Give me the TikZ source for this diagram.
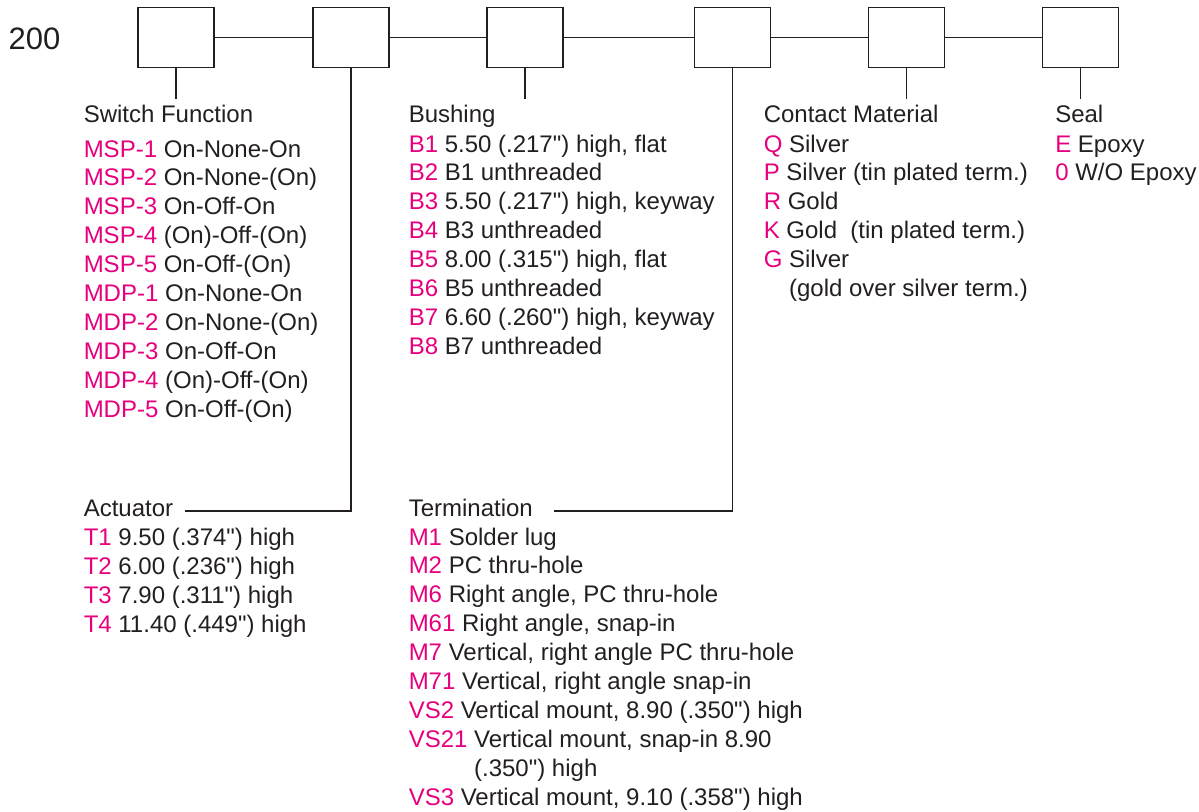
\documentclass[tikz,border=0pt]{standalone}
\usepackage{fontspec}
\setmainfont{Liberation Sans}[Ligatures=TeXOff]
\usetikzlibrary{positioning, calc}
\definecolor{codepink}{RGB}{230,0,126}
\definecolor{inkgray}{RGB}{35,31,32}
\newcommand{\cde}[1]{\textcolor{codepink}{#1}}

\begin{document}
\begin{tikzpicture}[x=1pt, y=1pt, line width=1.5pt, color=inkgray,
  partbox/.style={draw, minimum width=76pt, minimum height=60pt, inner sep=0pt},
  txt/.style={anchor=base west, inner sep=0pt, font=\fontsize{24}{28}\selectfont}]
  \useasboundingbox (0,0) rectangle (1199,-811);

  % part number
  \node[anchor=base west, inner sep=0pt, font=\fontsize{31}{31}\selectfont] (pn) at (8,-49) {200};

  % boxes and the line through them
  \foreach \n/\x in {sw/176, act/351, bush/525, term/732.5, cont/906.5, seal/1080.5}
    \node[partbox] (\n) at (\x,-37.5) {};
  \foreach \a/\b in {sw/act, act/bush, bush/term, term/cont, cont/seal}
    \draw (\a) -- (\b);

  % short stubs down to the headings
  \foreach \n in {sw, bush, cont, seal} {
    \coordinate (\n-tip) at ($(\n.south)+(0,-31)$);
    \draw (\n.south) -- (\n-tip);
  }

  % Switch Function
  \node[txt] (swlbl) at (83,-122.5) {Switch Function};
  \foreach \c/\t [count=\i from 0] in {MSP-1/On-None-On, MSP-2/On-None-(On),
      MSP-3/On-Off-On, MSP-4/(On)-Off-(On), MSP-5/On-Off-(On),
      MDP-1/On-None-On, MDP-2/On-None-(On), MDP-3/On-Off-On,
      MDP-4/(On)-Off-(On), MDP-5/On-Off-(On)}
    \node[txt] (sw-\i) at (83,{-157-28.9*\i}) {\cde{\c} \t};

  % Bushing
  \node[txt] (bushlbl) at (408,-122.5) {Bushing};
  \foreach \c/\t [count=\i from 0] in {{B1/5.50 (.217") high, flat}, B2/B1 unthreaded,
      {B3/5.50 (.217") high, keyway}, B4/B3 unthreaded,
      {B5/8.00 (.315") high, flat}, B6/B5 unthreaded,
      {B7/6.60 (.260") high, keyway}, B8/B7 unthreaded}
    \node[txt] (bush-\i) at (408,{-152-28.9*\i}) {\cde{\c} \t};

  % Contact Material
  \node[txt] (contlbl) at (763,-122.5) {Contact Material};
  \foreach \c/\t [count=\i from 0] in {Q/Silver, P/Silver (tin plated term.), R/Gold,
      K/Gold~ (tin plated term.), G/Silver}
    \node[txt] (cont-\i) at (763,{-152-28.9*\i}) {\cde{\c} \t};
  \node[txt] (cont-5) at (763,{-152-28.9*5}) {\hphantom{G} (gold over silver term.)};

  % Seal
  \node[txt] (seallbl) at (1054.5,-122.5) {Seal};
  \node[txt] (seal-0) at (1054.5,-152) {\cde{E} Epoxy};
  \node[txt] (seal-1) at (1054.5,-180.9) {\cde{0} W/O Epoxy};

  % Actuator
  \node[txt] (actlbl) at (83,-516.5) {Actuator};
  \draw (act.south) |- ([xshift=11pt,yshift=5.5pt]actlbl.base east);
  \foreach \c/\t [count=\i from 0] in {T1/9.50 (.374") high, T2/6.00 (.236") high,
      T3/7.90 (.311") high, T4/11.40 (.449") high}
    \node[txt] (act-\i) at (83,{-545.5-28.9*\i}) {\cde{\c} \t};

  % Termination
  \node[txt] (termlbl) at (408,-516.5) {Termination};
  \draw (term.south) |- ([xshift=20pt,yshift=5.5pt]termlbl.base east);
  \foreach \c/\t [count=\i from 0] in {M1/Solder lug, M2/PC thru-hole,
      {M6/Right angle, PC thru-hole}, {M61/Right angle, snap-in},
      {M7/Vertical, right angle PC thru-hole}, {M71/Vertical, right angle snap-in},
      {VS2/Vertical mount, 8.90 (.350") high}, {VS21/Vertical mount, snap-in 8.90}}
    \node[txt] (term-\i) at (408,{-545-28.9*\i}) {\cde{\c} \t};
  \node[txt] (term-8) at (408,{-545-28.9*8}) {\hphantom{VS21} (.350") high};
  \node[txt] (term-9) at (408,{-545-28.9*9}) {\cde{VS3} Vertical mount, 9.10 (.358") high};
\end{tikzpicture}
\end{document}
